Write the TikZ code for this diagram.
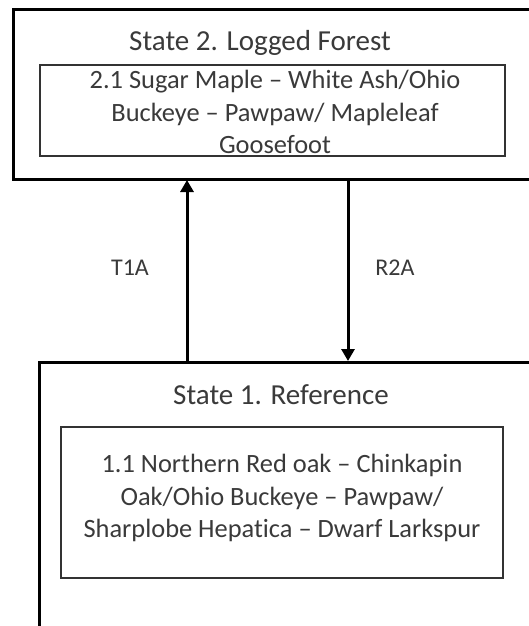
\documentclass[tikz,border=0pt]{standalone}
\usepackage{fontspec}
\setmainfont[Ligatures=NoCommon]{Carlito}
\usetikzlibrary{arrows.meta}
\definecolor{txt}{HTML}{3A3A3A}
\begin{document}
\begin{tikzpicture}[x=1pt,y=-1pt,
  outerbox/.style={draw=black,line width=3pt},
  innerbox/.style={draw=black!80,line width=1.5pt},
  lbl/.style={text=txt,inner sep=0pt,align=center},
  ttl/.style={lbl,font=\fontsize{29}{35}\selectfont},
  body/.style={lbl,font=\fontsize{26.4}{32.5}\selectfont},
  edgelbl/.style={lbl,font=\fontsize{24}{30}\selectfont},
  conn/.style={line width=3pt,-{Triangle[length=12pt,width=13pt]}}]
\useasboundingbox (0,0) rectangle (529,626);
\clip (0,0) rectangle (529,626);
\fill[white] (0,0) rectangle (529,626);
% top state
\draw[outerbox] (13,10) rectangle (560,179);
\node[ttl] (s2title) at (260,43) {State 2. Logged Forest};
\draw[innerbox] (40,65) rectangle (505,156);
\node[body] (s2text) at (275,112) {2.1 Sugar Maple – White Ash/Ohio\\Buckeye – Pawpaw/ Mapleleaf\\Goosefoot};
% bottom state
\draw[outerbox] (39,362) rectangle (560,660);
\node[ttl] (s1title) at (281,395) {State 1. Reference};
\draw[innerbox] (61,427) rectangle (503,578);
\node[body] (s1text) at (282,498) {1.1 Northern Red oak – Chinkapin\\Oak/Ohio Buckeye – Pawpaw/\\Sharplobe Hepatica – Dwarf Larkspur};
% connectors
\coordinate (upA) at (187,362);
\coordinate (upB) at (187,180);
\coordinate (dnA) at (348,180);
\coordinate (dnB) at (348,361);
\draw[conn] (upA) -- (upB);
\draw[conn] (dnA) -- (dnB);
\node[edgelbl] (t1a) at (130,268) {T1A};
\node[edgelbl] (r2a) at (395,268) {R2A};
\end{tikzpicture}
\end{document}
